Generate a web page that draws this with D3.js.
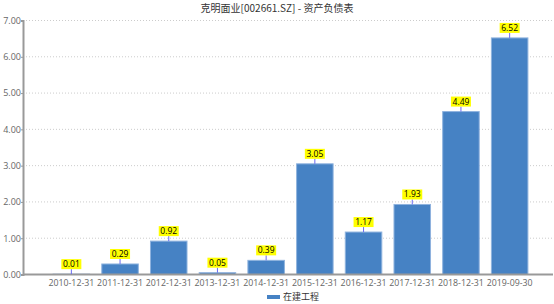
<!DOCTYPE html>
<html>
<head>
<meta charset="utf-8">
<script src="https://cdn.jsdelivr.net/npm/d3@7"></script>
<style>
body { margin: 0; background: #fff; }
svg { font-family: "Noto Sans CJK SC", "Open Sans", sans-serif; }
</style>
</head>
<body>
<svg id="chart" width="554" height="304"></svg>
<script>
const categories = ["2010-12-31", "2011-12-31", "2012-12-31", "2013-12-31", "2014-12-31",
    "2015-12-31", "2016-12-31", "2017-12-31", "2018-12-31", "2019-09-30"];
const values = [0.01, 0.29, 0.92, 0.05, 0.39, 3.05, 1.17, 1.93, 4.49, 6.52];
const yTicks = [0, 1, 2, 3, 4, 5, 6, 7];
const seriesName = "在建工程";
const title = "克明面业[002661.SZ] - 资产负债表";

const svg = d3.select("#chart");
const plotLeft = 23, plotRight = 553, plotTop = 20.5, plotBottom = 274.5;

const x = d3.scaleBand()
    .domain(categories)
    .range([47, 534])
    .paddingInner(0.25)
    .paddingOuter(0.125);

const y = d3.scaleLinear()
    .domain([0, 7])
    .range([plotBottom, plotTop]);

// title
svg.append("text")
    .attr("x", 277)
    .attr("y", 12)
    .attr("text-anchor", "middle")
    .attr("font-size", 10)
    .attr("fill", "#333")
    .text(title);

// grid lines
svg.append("g")
    .selectAll("line")
    .data(yTicks.slice(1))
    .enter().append("line")
    .attr("x1", plotLeft)
    .attr("x2", plotRight)
    .attr("y1", d => y(d))
    .attr("y2", d => y(d))
    .attr("stroke", "#ccc")
    .attr("stroke-dasharray", "1,2");

// y axis
const yAxis = svg.append("g")
    .attr("transform", "translate(" + plotLeft + ",0)")
    .call(d3.axisLeft(y).tickValues(yTicks).tickFormat(d3.format(".2f")).tickSize(2));
yAxis.select(".domain").attr("stroke", "#999").attr("stroke-width", 2);
yAxis.selectAll(".tick line").attr("stroke", "#999");
yAxis.selectAll(".tick text").attr("fill", "#666").attr("font-size", 9)
    .attr("font-family", "Open Sans, sans-serif").attr("x", -2);

// bars
svg.selectAll(".bar")
    .data(values)
    .enter().append("rect")
    .attr("class", "bar")
    .attr("x", (d, i) => x(categories[i]))
    .attr("y", d => y(d))
    .attr("width", x.bandwidth())
    .attr("height", d => plotBottom - y(d))
    .attr("fill", "#4682c4")
    .attr("stroke", "#8fb3de")
    .attr("stroke-width", 1);

// x axis
const xAxis = svg.append("g")
    .attr("transform", "translate(0," + plotBottom + ")")
    .call(d3.axisBottom(x).tickSize(0).tickSizeOuter(0));
xAxis.select(".domain").attr("d", "M" + plotLeft + ",0H" + plotRight).attr("stroke", "#999").attr("stroke-width", 2);
xAxis.selectAll(".tick text").attr("fill", "#666").attr("font-size", 8.8)
    .attr("font-family", "Open Sans, sans-serif").attr("dy", "1.0em");

// value labels
const labels = svg.append("g").selectAll("g")
    .data(values)
    .enter().append("g")
    .attr("transform", (d, i) => "translate(" + (x(categories[i]) + x.bandwidth() / 2) + "," + y(d) + ")");

labels.append("line")
    .attr("y1", 0)
    .attr("y2", -5)
    .attr("stroke", "#6a6af0");

labels.append("rect")
    .attr("x", -10)
    .attr("y", -15)
    .attr("width", 20)
    .attr("height", 10)
    .attr("fill", "#ffff00");

labels.append("text")
    .attr("y", -7)
    .attr("text-anchor", "middle")
    .attr("font-size", 8.5)
    .attr("font-family", "Open Sans, sans-serif")
    .attr("fill", "#000")
    .text(d => d.toFixed(2));

// legend
svg.append("rect")
    .attr("x", 267)
    .attr("y", 295)
    .attr("width", 13)
    .attr("height", 4)
    .attr("fill", "#4682c4");
svg.append("text")
    .attr("x", 283)
    .attr("y", 300)
    .attr("font-size", 9)
    .attr("fill", "#333")
    .text(seriesName);
</script>
</body>
</html>
